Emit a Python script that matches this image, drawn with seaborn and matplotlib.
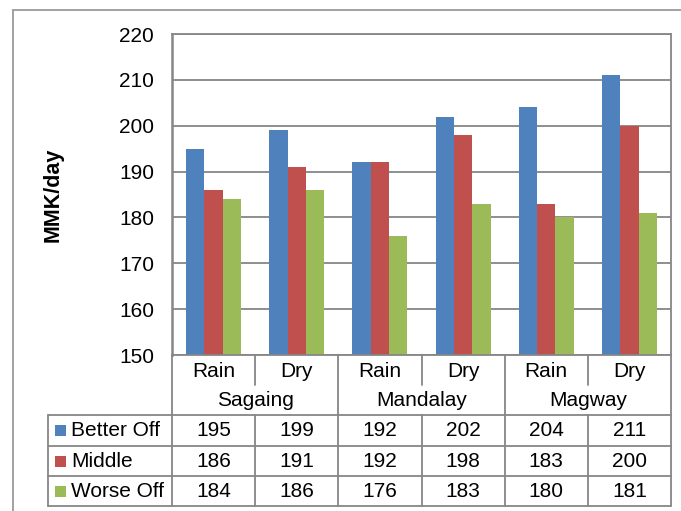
import pandas as pd
import seaborn as sns
import matplotlib.pyplot as plt
from matplotlib.lines import Line2D
from matplotlib.patches import Rectangle
import matplotlib.transforms as mtransforms

# Data
regions = ["Sagaing", "Mandalay", "Magway"]
seasons = ["Rain", "Dry"]
groups = ["Better Off", "Middle", "Worse Off"]
better_off = [195, 199, 192, 202, 204, 211]
middle = [186, 191, 192, 198, 183, 200]
worse_off = [184, 186, 176, 183, 180, 181]
y_ticks = [150, 160, 170, 180, 190, 200, 210, 220]
colors = ["#4F81BD", "#C0504D", "#9BBB59"]

sns.set_theme(style="white")
plt.rcParams["font.family"] = ["Liberation Sans", "DejaVu Sans"]

FS = 15

cols = [f"{r}|{s}" for r in regions for s in seasons]
col_season = [s for r in regions for s in seasons]
series = {"Better Off": better_off, "Middle": middle, "Worse Off": worse_off}
df = pd.DataFrame(
    [(c, g, v) for g in groups for c, v in zip(cols, series[g])],
    columns=["col", "group", "value"],
)

W, H = 681, 511
fig = plt.figure(figsize=(W / 100, H / 100), dpi=100)


def fx(px):
    return px / W


def fy(py):
    return 1 - py / H


GRID = "#868686"
L, R, T, B = 172, 671, 34, 355
ax = fig.add_axes([fx(L), fy(B), (R - L) / W, (B - T) / H])

sns.barplot(
    data=df, x="col", y="value", hue="group", order=cols, hue_order=groups,
    palette=colors, width=0.66, gap=0, saturation=1, legend=False,
    linewidth=0, ax=ax,
)

ax.set_ylim(y_ticks[0], y_ticks[-1])
ax.set_yticks(y_ticks)
ax.set_xlim(-0.5, len(cols) - 0.5)
ax.set_xticks([])
ax.set_xlabel("")
ax.set_ylabel("MMK/day", fontsize=15.5, fontweight="bold", color="black")
ax.yaxis.set_label_coords((64 - L) / (R - L), (B - 195) / (B - T))
ax.tick_params(axis="y", length=0, pad=13, labelsize=FS, labelcolor="black")
ax.yaxis.grid(True, color=GRID, linewidth=1.3)
ax.set_axisbelow(True)
for name, sp in ax.spines.items():
    sp.set_visible(True)
    sp.set_color(GRID)
    sp.set_linewidth(1.3)
ax.spines["left"].set_linewidth(1.8)

# Data table under the plot area
trans = mtransforms.blended_transform_factory(ax.transData, fig.transFigure)
col_w = (R - L) / len(cols)


def px_to_data(px):
    return -0.5 + (px - L) / col_w


x_left = px_to_data(48)
x_right = len(cols) - 0.5
line_kw = dict(color=GRID, linewidth=1.3, transform=trans, clip_on=False)

row_tops = [415, 446, 476, 506]
cat_top, cat_bot = B, 385

# group boundaries
for k in range(len(regions) + 1):
    xb = 2 * k - 0.5
    ax.add_line(Line2D([xb, xb], [fy(cat_top), fy(row_tops[-1])], **line_kw))
# season separators inside groups
for k in range(len(regions)):
    xb = 2 * k + 0.5
    ax.add_line(Line2D([xb, xb], [fy(cat_top), fy(cat_bot)], **line_kw))
    ax.add_line(Line2D([xb, xb], [fy(row_tops[0]), fy(row_tops[-1])], **line_kw))
# row lines
for yy in row_tops:
    ax.add_line(Line2D([x_left, x_right], [fy(yy), fy(yy)], **line_kw))
ax.add_line(Line2D([x_left, x_left], [fy(row_tops[0]), fy(row_tops[-1])], **line_kw))

txt_kw = dict(transform=trans, ha="center", va="center", fontsize=FS,
              color="black", clip_on=False)
for i, s in enumerate(col_season):
    ax.text(i, fy(371), s, **txt_kw)
for k, r in enumerate(regions):
    ax.text(2 * k + 0.5, fy(400), r, **txt_kw)

for j, g in enumerate(groups):
    y0, y1 = row_tops[j], row_tops[j + 1]
    yc = (y0 + y1) / 2
    for i, v in enumerate(series[g]):
        ax.text(i, fy(yc), str(v), **txt_kw)
    fig.add_artist(Rectangle((fx(55), fy(yc + 5.5)), 11 / W, 11 / H,
                             transform=fig.transFigure, facecolor=colors[j],
                             edgecolor="none"))
    fig.text(fx(71), fy(yc), g, ha="left", va="center", fontsize=FS,
             color="black")

# chart area border
fig.add_artist(Line2D([fx(13), fx(13)], [fy(10), 0], color="#9a9a9a",
                      linewidth=1.3, transform=fig.transFigure))
fig.add_artist(Line2D([fx(13), 1], [fy(10), fy(10)], color="#9a9a9a",
                      linewidth=1.3, transform=fig.transFigure))

fig.savefig("out.png", dpi=100)
